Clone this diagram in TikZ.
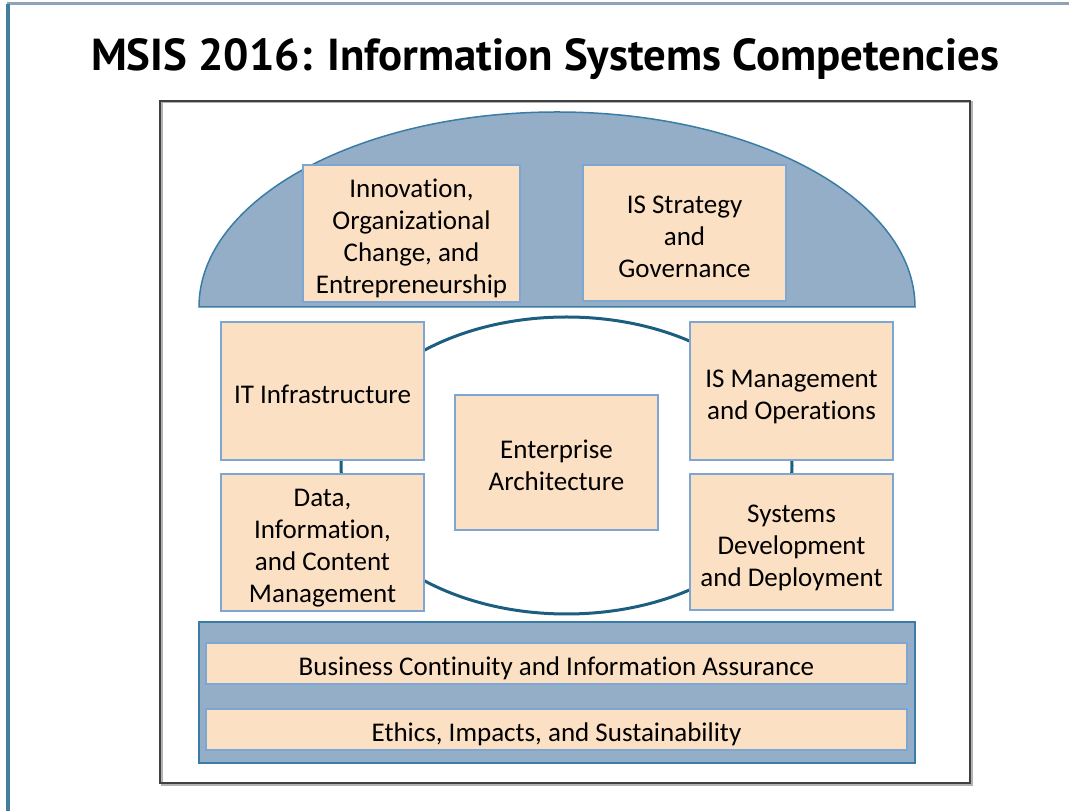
\documentclass[tikz,border=0pt]{standalone}
\usepackage{fontspec}
\setmainfont{Carlito}[Ligatures=CommonOff]
\newfontfamily\titlefont{PT Sans}
\usepackage{xcolor}
\usetikzlibrary{positioning,shapes}

\definecolor{domeblue}{HTML}{94AEC8}
\definecolor{domeline}{HTML}{3A7CA5}
\definecolor{peach}{HTML}{FCE0C4}
\definecolor{boxline}{HTML}{7EA6D2}
\definecolor{ringline}{HTML}{1B5E80}
\definecolor{slideline}{HTML}{8FA3B8}
\definecolor{slideleft}{HTML}{437F9C}

% lines of a box, set a little low as in the slide
\newcommand\complines[1]{\raisebox{-6pt}[\height][\depth]{\begin{tabular}{@{}c@{}}#1\end{tabular}}}

\tikzset{
  comp/.style={draw=boxline, line width=1.5pt, fill=peach, rectangle,
    minimum width=203pt, minimum height=137pt,
    font=\fontsize{27}{32}\selectfont, inner sep=2pt},
  wide/.style={comp, minimum width=701pt, minimum height=41pt},
}

\begin{document}
\begin{tikzpicture}[x=1pt, y=1pt]
  \useasboundingbox (0,0) rectangle (1069,811);
  % slide edges
  \draw[slideline, line width=3pt] (7,807) -- (1069,807);
  \draw[slideleft, line width=4pt] (8,807) -- (8,0);
  \node[font=\titlefont\bfseries\fontsize{44.8}{48}\selectfont] (title) at (545,752) {MSIS 2016: Information Systems Competencies};
  % frame
  \draw[gray!60, line width=2pt] (162,709) rectangle (972,26);
  \draw[black!75, line width=1.5pt] (160,710) rectangle (970,28);
  % dome and ring
  \draw[domeline, line width=1.5pt, fill=domeblue] (199,504) arc[start angle=180, end angle=0, x radius=358, y radius=195] -- cycle;
  \draw[ringline, line width=3pt] (566.5,345.5) ellipse[x radius=225.5, y radius=148.5];
  % bottom band
  \draw[domeline, line width=2pt, fill=domeblue] (199,189) rectangle (915,48);

  \node[comp, minimum width=217pt] (innov) at (411.5,577.5) {\complines{Innovation,\\Organizational\\Change, and\\Entrepreneurship}};
  \node[comp, minimum height=136pt] (strat) at (684.5,578) {\complines{IS Strategy\\and\\Governance}};
  \node[comp, minimum height=138pt] (infra) at (322.5,420) {\complines{IT Infrastructure}};
  \node[comp, minimum height=138pt] (mgmt) at (791.5,420) {\complines{IS Management\\and Operations}};
  \node[comp, minimum height=135pt] (ea) at (556.5,348.5) {\complines{Enterprise\\Architecture}};
  \node[comp] (data) at (322.5,268.5) {\complines{Data,\\Information,\\and Content\\Management}};
  \node[comp, minimum height=136pt] (sysdev) at (791.5,269) {\complines{Systems\\Development\\and Deployment}};
  \node[wide] (bcia) at (556.5,147.5) {\complines{Business Continuity and Information Assurance}};
  \node[wide] (ethics) at (556.5,81.5) {\complines{Ethics, Impacts, and Sustainability}};
\end{tikzpicture}
\end{document}
